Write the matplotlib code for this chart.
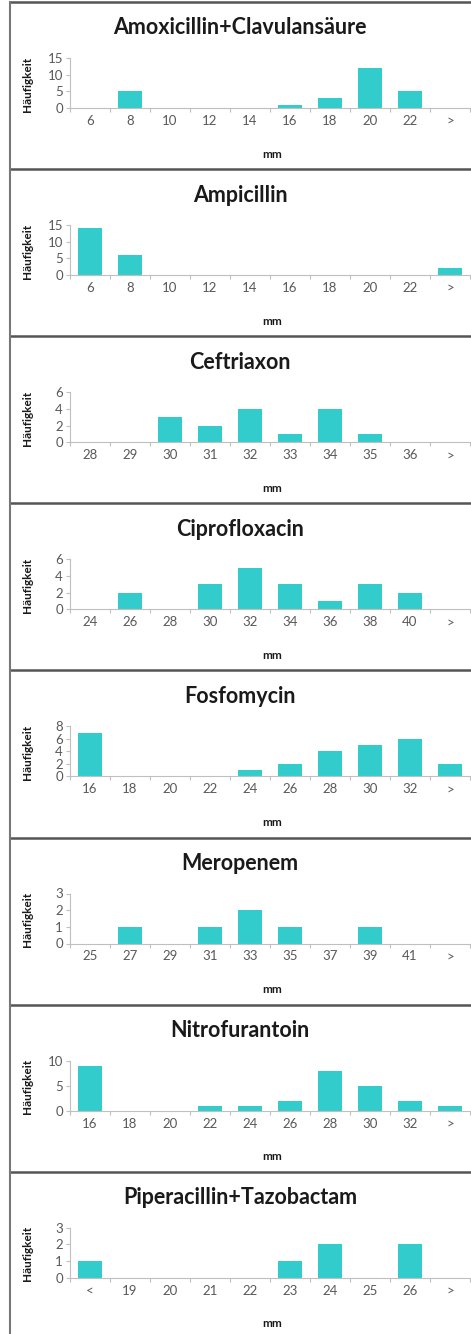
import matplotlib
matplotlib.use("Agg")
import matplotlib.pyplot as plt
from matplotlib.lines import Line2D

plt.rcParams["font.family"] = ["Lato", "DejaVu Sans"]

# Hemmhofdurchmesser-Verteilungen (mm) je Antibiotikum
titles = [
    "Amoxicillin+Clavulansäure",
    "Ampicillin",
    "Ceftriaxon",
    "Ciprofloxacin",
    "Fosfomycin",
    "Meropenem",
    "Nitrofurantoin",
    "Piperacillin+Tazobactam",
]
cats_amc = ["6", "8", "10", "12", "14", "16", "18", "20", "22", ">"]
vals_amc = [0, 5, 0, 0, 0, 1, 3, 12, 5, 0]
cats_amp = ["6", "8", "10", "12", "14", "16", "18", "20", "22", ">"]
vals_amp = [14, 6, 0, 0, 0, 0, 0, 0, 0, 2]
cats_cro = ["28", "29", "30", "31", "32", "33", "34", "35", "36", ">"]
vals_cro = [0, 0, 3, 2, 4, 1, 4, 1, 0, 0]
cats_cip = ["24", "26", "28", "30", "32", "34", "36", "38", "40", ">"]
vals_cip = [0, 2, 0, 3, 5, 3, 1, 3, 2, 0]
cats_fos = ["16", "18", "20", "22", "24", "26", "28", "30", "32", ">"]
vals_fos = [7, 0, 0, 0, 1, 2, 4, 5, 6, 2]
cats_mer = ["25", "27", "29", "31", "33", "35", "37", "39", "41", ">"]
vals_mer = [0, 1, 0, 1, 2, 1, 0, 1, 0, 0]
cats_nit = ["16", "18", "20", "22", "24", "26", "28", "30", "32", ">"]
vals_nit = [9, 0, 0, 1, 1, 2, 8, 5, 2, 1]
cats_tzp = ["<", "19", "20", "21", "22", "23", "24", "25", "26", ">"]
vals_tzp = [1, 0, 0, 0, 0, 1, 2, 0, 2, 0]

cats = [cats_amc, cats_amp, cats_cro, cats_cip, cats_fos, cats_mer, cats_nit, cats_tzp]
vals = [vals_amc, vals_amp, vals_cro, vals_cip, vals_fos, vals_mer, vals_nit, vals_tzp]
ymax = [15, 15, 6, 6, 8, 3, 10, 3]
ystep = [5, 5, 2, 2, 2, 1, 5, 1]

W, H = 471, 1334
BAR = "#33CCCC"
GRID = "#BFBFBF"
TXT = "#595959"
PANEL_H = 167.1
TOP0 = 2

fig = plt.figure(figsize=(W / 100, H / 100), dpi=100)


def fy(px):
    """Pixel-y (von oben) in Figurenkoordinaten"""
    return 1 - px / H


for i, title in enumerate(titles):
    top = TOP0 + i * PANEL_H
    ax = fig.add_axes([70 / W, fy(top + 106), 400 / W, 50 / H])
    x = list(range(len(cats[i])))
    ax.bar(x, vals[i], width=0.6, color=BAR, zorder=2)
    ax.set_xlim(-0.5, len(x) - 0.5)
    ax.set_ylim(0, ymax[i])
    ax.set_yticks(range(0, ymax[i] + 1, ystep[i]))
    ax.set_xticks([k - 0.5 for k in range(len(x) + 1)])
    ax.set_xticklabels([])
    ax.set_xticks(x, minor=True)
    ax.set_xticklabels(cats[i], minor=True)
    ax.tick_params(axis="x", which="major", length=3, width=0.8, color=GRID)
    ax.tick_params(axis="x", which="minor", length=0, pad=5, labelsize=9.5,
                   labelcolor=TXT)
    ax.tick_params(axis="y", length=3, width=0.8, color=GRID, pad=2,
                   labelsize=9.5, labelcolor=TXT)
    for s in ["top", "right"]:
        ax.spines[s].set_visible(False)
    for s in ["left", "bottom"]:
        ax.spines[s].set_color(GRID)
        ax.spines[s].set_linewidth(0.8)
    ax.patch.set_alpha(0)

    fig.text(240 / W, fy(top + 26), title, ha="center", va="center",
             fontsize=15.5, fontweight="bold", color="#1a1a1a")
    fig.text(28 / W, fy(top + 82), "Häufigkeit", rotation=90, ha="center",
             va="center", fontsize=8.5, fontweight="bold", color="#1a1a1a")
    fig.text(272 / W, fy(top + 152), "mm", ha="center", va="center",
             fontsize=8.5, fontweight="bold", color="#1a1a1a")

    # Trennlinie oberhalb des Panels
    fig.add_artist(Line2D([10 / W, 1], [fy(top), fy(top)], color="#555555",
                          lw=1.8, transform=fig.transFigure))

# linke Umrandung
fig.add_artist(Line2D([10 / W, 10 / W], [fy(TOP0), 0], color="#777777",
                      lw=1.5, transform=fig.transFigure))

fig.savefig("out.png", dpi=100)
